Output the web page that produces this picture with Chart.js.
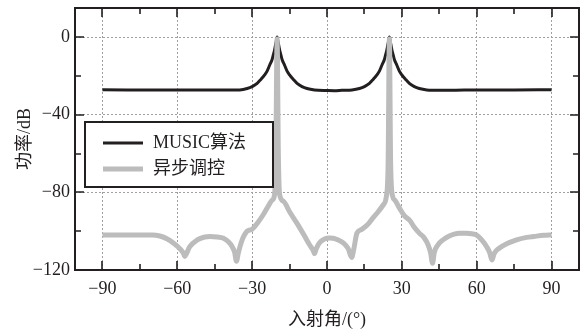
<!DOCTYPE html>
<html>
<head>
<meta charset="utf-8">
<script src="https://cdn.jsdelivr.net/npm/chart.js@4.4.1/dist/chart.umd.min.js"></script>
<style>
body { margin: 0; background: #fff; }
</style>
</head>
<body>
<canvas id="grafico" width="581" height="331"></canvas>
<script>

const xTicks = [-90, -75, -60, -45, -30, -15, 0, 15, 30, 45, 60, 75, 90];
const yTicks = [-120, -100, -80, -60, -40, -20, 0];
const nomesSeries = ['MUSIC算法', '异步调控'];

// MUSIC
const anguloMusic = [-90, -80, -70, -60, -50, -40, -35, -32, -30, -28, -26.5, -25, -24, -23, -22, -21.5, -21, -20.7, -20.3, -20,
    -19.7, -19.3, -19, -18.5, -18, -17, -16, -15, -13.5, -12, -10, -8, -5, 0, 3, 6, 10, 13, 15, 17, 18.5, 20, 21, 22, 23, 23.5,
    24, 24.3, 24.7, 25, 25.3, 25.7, 26, 26.5, 27, 28, 29, 30, 31.5, 33, 35, 37, 40, 45, 55, 65, 75, 90];
const potenciaMusic = [-27.1, -27.2, -27.3, -27.2, -27.3, -27.3, -27.2, -26.5, -25.5, -23.8, -21.8, -19.5, -17.5, -14.5, -11.5, -9, -6.5, -4.5, -2, 0,
    -2, -4.5, -6.5, -9, -11.5, -14.5, -17.5, -19.5, -21.8, -23.8, -25.5, -26.5, -27.2, -27.5, -27.6, -27.4, -27.2, -26.5, -25.5, -23.8, -21.8, -19.5, -17.5, -14.5, -11.5, -9,
    -6.5, -4.5, -2, 0, -2, -4.5, -6.5, -9, -11.5, -14.5, -17.5, -19.5, -21.8, -23.8, -25.5, -26.5, -27.2, -27.4, -27.3, -27.2, -27.2, -27.1];

// 异步调控
const anguloAssinc = [-90, -85, -80, -75, -70, -67, -64, -61.5, -59, -57.5, -57, -56.3, -55, -52, -49, -46.8, -44, -41.5, -39.5, -38, -37, -36.3,
    -35.5, -34, -32, -30, -28, -25.5, -23.5, -22, -21, -20.5, -20, -19.5, -19, -17.5, -15, -12, -9, -7, -5.5, -5, -4.3, -3, -1, 1, 2.5,
    4.5, 6.5, 8.5, 9.9, 10.7, 12, 14, 16, 18.5, 20.5, 22.5, 23.8, 24.5, 25, 25.5, 26.3, 27.2, 29, 31, 33.2, 35, 37, 39, 40.5, 41.5, 42.3,
    43, 44.5, 46.5, 49, 51, 53, 56, 58, 60, 62, 64, 65.2, 66.1, 67, 69, 72, 76, 80, 83, 87, 90];
const potenciaAssinc = [-102, -102, -102, -102, -102, -102.5, -104, -106.2, -109, -111.5, -113, -111.5, -108, -104.5, -103, -102.7, -103, -103.6, -105.5, -108, -111, -115.5,
    -111, -104.5, -100, -99, -96, -91.4, -87, -84, -81, -60, -1, -60, -81, -84.5, -90, -96, -102.5, -107, -110, -111.5, -109, -106, -104, -103.5, -103.6,
    -104.5, -106, -109, -113.5, -109.5, -101, -99, -97, -93, -90, -86.5, -82, -65, -1, -65, -82, -84, -88, -92, -94.5, -98, -101, -103.5, -107, -111, -116.5,
    -111, -107, -104.5, -102.5, -101.5, -101, -101, -101.3, -102, -104.5, -108, -111, -114.8, -111.5, -108.8, -106.5, -104.5, -103.2, -102.7, -102.1, -101.9];

const corTexto = '#231f20';
const fonteSerif = '"Liberation Serif", "Noto Sans CJK SC", serif';

function formatarNumero(v) {
    return v < 0 ? '\u2212' + Math.abs(v) : String(v);
}

function juntarPontos(xs, ys) {
    return xs.map((x, i) => ({ x: x, y: ys[i] }));
}

// moldura, marcas internas e legenda
const moldura = {
    id: 'moldura',
    afterDraw(chart) {
        const ctx = chart.ctx;
        const a = chart.chartArea;
        const sx = chart.scales.x;
        const sy = chart.scales.y;
        ctx.save();
        ctx.strokeStyle = corTexto;
        ctx.lineWidth = 1.6;
        ctx.beginPath();
        xTicks.forEach(v => {
            const px = Math.round(sx.getPixelForValue(v));
            const len = v % 30 === 0 ? 9 : 6;
            ctx.moveTo(px, a.bottom); ctx.lineTo(px, a.bottom - len);
            ctx.moveTo(px, a.top); ctx.lineTo(px, a.top + len);
        });
        yTicks.forEach(v => {
            const py = Math.round(sy.getPixelForValue(v));
            const len = v % 40 === 0 ? 9 : 6;
            ctx.moveTo(a.left, py); ctx.lineTo(a.left + len, py);
            ctx.moveTo(a.right, py); ctx.lineTo(a.right - len, py);
        });
        ctx.stroke();
        ctx.lineWidth = 2;
        ctx.strokeRect(a.left, a.top, a.right - a.left, a.bottom - a.top);

        // legenda
        const lx = a.left + 10, ly = a.top + 114, lw = 188, lh = 65;
        ctx.fillStyle = '#fff';
        ctx.fillRect(lx, ly, lw, lh);
        ctx.strokeRect(lx, ly, lw, lh);
        ctx.font = '18px ' + fonteSerif;
        ctx.textBaseline = 'middle';
        chart.data.datasets.slice().sort((p, q) => p.legendPos - q.legendPos).forEach((ds, i) => {
            const yy = ly + 21 + i * 26;
            ctx.strokeStyle = ds.borderColor;
            ctx.lineWidth = ds.borderWidth;
            ctx.beginPath();
            ctx.moveTo(lx + 18, yy); ctx.lineTo(lx + 58, yy);
            ctx.stroke();
            ctx.fillStyle = corTexto;
            ctx.fillText(ds.label, lx + 68, yy);
        });
        ctx.restore();
    }
};

const grafico = new Chart(document.getElementById('grafico'), {
    type: 'line',
    data: {
        datasets: [{
            label: nomesSeries[1],
            data: juntarPontos(anguloAssinc, potenciaAssinc),
            borderColor: '#bcbcbc',
            borderWidth: 5,
            pointRadius: 0,
            fill: false,
            order: 0,
            legendPos: 1,
            cubicInterpolationMode: 'monotone'
        }, {
            label: nomesSeries[0],
            data: juntarPontos(anguloMusic, potenciaMusic),
            borderColor: corTexto,
            borderWidth: 3,
            pointRadius: 0,
            fill: false,
            order: 1,
            legendPos: 0,
            cubicInterpolationMode: 'monotone'
        }]
    },
    options: {
        responsive: false,
        animation: false,
        layout: { padding: { top: 8, right: 2, left: 0, bottom: 0 } },
        plugins: {
            legend: { display: false },
            tooltip: { enabled: false }
        },
        scales: {
            x: {
                type: 'linear',
                min: -101,
                max: 101,
                afterBuildTicks: s => { s.ticks = xTicks.map(v => ({ value: v })); },
                afterFit: s => { s.height = 61; s.paddingLeft = 0; s.paddingRight = 0; },
                grid: {
                    drawTicks: false,
                    color: c => (c.tick && c.tick.value % 30 === 0) ? '#a0a0a0' : 'rgba(0,0,0,0)',
                    lineWidth: 1
                },
                border: { display: false, dash: [2, 2] },
                ticks: {
                    padding: 8,
                    color: corTexto,
                    font: { family: fonteSerif, size: 18 },
                    maxRotation: 0,
                    autoSkip: false,
                    callback: v => v % 30 === 0 ? formatarNumero(v) : ''
                },
                title: {
                    display: true,
                    text: '入射角/(°)',
                    color: corTexto,
                    font: { family: fonteSerif, size: 18 },
                    padding: { top: 0, bottom: 0 }
                }
            },
            y: {
                type: 'linear',
                min: -120,
                max: 15,
                afterBuildTicks: s => { s.ticks = yTicks.map(v => ({ value: v })); },
                afterFit: s => { s.width = 75; s.paddingTop = 0; s.paddingBottom = 0; },
                grid: {
                    drawTicks: false,
                    color: c => (c.tick && c.tick.value % 40 === 0 && c.tick.value > -120) ? '#a0a0a0' : 'rgba(0,0,0,0)',
                    lineWidth: 1
                },
                border: { display: false, dash: [2, 2] },
                ticks: {
                    padding: 5,
                    color: corTexto,
                    font: { family: fonteSerif, size: 18 },
                    autoSkip: false,
                    callback: v => v % 40 === 0 ? formatarNumero(v) : ''
                },
                title: {
                    display: true,
                    text: '功率/dB',
                    color: corTexto,
                    font: { family: fonteSerif, size: 18 },
                    padding: { top: 14, bottom: 0 }
                }
            }
        }
    },
    plugins: [moldura]
});
</script>
</body>
</html>
